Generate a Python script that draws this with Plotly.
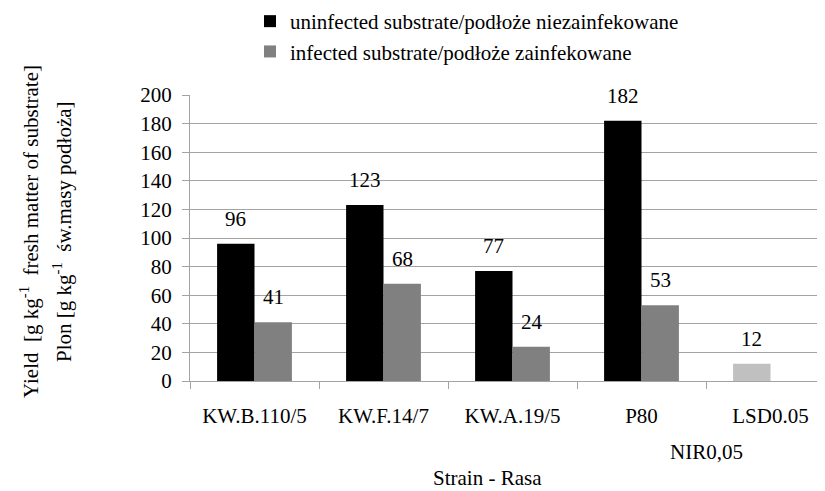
import plotly.graph_objects as go

categories = ["KW.B.110/5", "KW.F.14/7", "KW.A.19/5", "P80", "LSD0.05"]
uninfected = [96, 123, 77, 182, 12]
infected = [41, 68, 24, 53, None]
name_uninf = "uninfected substrate/podłoże niezainfekowane"
name_inf = "infected substrate/podłoże zainfekowane"
uninf_colors = ["#000000", "#000000", "#000000", "#000000", "#c0c0c0"]
y_ticks = list(range(0, 201, 20))

FONT = "Liberation Serif"
FS = 21
GRID = "#a3a3a3"

fig = go.Figure()
fig.add_trace(go.Bar(x=categories, y=uninfected, name=name_uninf,
                     marker=dict(color=uninf_colors, line=dict(width=0))))
fig.add_trace(go.Bar(x=categories, y=infected, name=name_inf,
                     marker=dict(color="#808080", line=dict(width=0))))

# data labels
for c, v in zip(categories, uninfected):
    if v is not None:
        fig.add_annotation(x=c, y=v, xref="x", yref="y", text=str(v), showarrow=False,
                           xshift=-19, yshift=25, font=dict(family=FONT, size=FS, color="black"))
for c, v in zip(categories, infected):
    if v is not None:
        fig.add_annotation(x=c, y=v, xref="x", yref="y", text=str(v), showarrow=False,
                           xshift=19, yshift=25, font=dict(family=FONT, size=FS, color="black"))

# extra axis texts
fig.add_annotation(x=3.5, y=-71 / 286, xref="x", yref="paper", text="NIR0,05", showarrow=False,
                   yanchor="middle", font=dict(family=FONT, size=FS, color="black"))
fig.add_annotation(x=(487 - 190) / 635, y=-110 / 286, xref="paper", yref="paper",
                   text="Strain - Rasa", showarrow=False, yanchor="bottom", borderpad=0,
                   font=dict(family=FONT, size=FS, color="black"))
fig.add_annotation(x=(29 - 190) / 635, y=(381 - 232) / 286, xref="paper", yref="paper",
                   text="Yield  [g kg<sup>-1</sup>  fresh matter of substrate]", textangle=-90,
                   showarrow=False, xanchor="center", yanchor="middle",
                   font=dict(family=FONT, size=FS, color="black"))
fig.add_annotation(x=(62 - 190) / 635, y=(381 - 232) / 286, xref="paper", yref="paper",
                   text="Plon [g kg<sup>-1</sup>  św.masy podłoża]", textangle=-90,
                   showarrow=False, xanchor="center", yanchor="middle",
                   font=dict(family=FONT, size=FS, color="black"))

# page body has an 8px margin, so the figure is drawn 8px smaller and offset
fig.update_layout(
    width=817, height=483,
    margin=dict(l=182, r=0, t=87, b=110, autoexpand=False),
    paper_bgcolor="white", plot_bgcolor="white",
    barmode="group", bargap=0.42, bargroupgap=0,
    font=dict(family=FONT, size=FS, color="black"),
    legend=dict(x=(250 - 190) / 635, y=1 + 94 / 286, xanchor="left", yanchor="top",
                orientation="v", font=dict(family=FONT, size=FS, color="black"),
                bgcolor="rgba(0,0,0,0)", tracegroupgap=0),
    showlegend=True,
)
fig.update_xaxes(type="category", range=[-0.5, 4.4225], showline=True, linecolor=GRID,
                 linewidth=1, ticks="outside", tickson="boundaries", ticklen=7,
                 tickcolor=GRID, showgrid=False, ticklabelstandoff=16,
                 tickfont=dict(family=FONT, size=FS, color="black"))
fig.update_yaxes(range=[0, 200], tickvals=y_ticks, showline=True, linecolor=GRID, linewidth=1,
                 ticks="outside", ticklen=7, tickcolor=GRID, showgrid=True, gridcolor=GRID,
                 gridwidth=1, zeroline=False, ticklabelstandoff=6,
                 tickfont=dict(family=FONT, size=FS, color="black"))

fig.write_html("out.html")
